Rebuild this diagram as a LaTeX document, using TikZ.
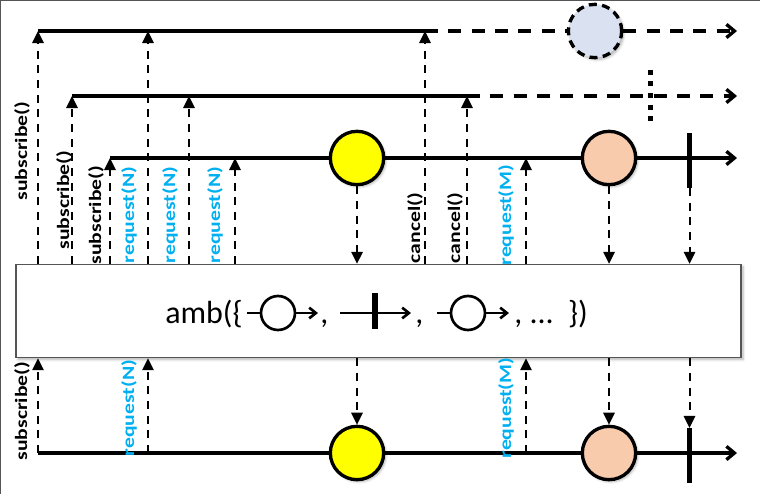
\documentclass[tikz,border=0pt]{standalone}
\usepackage{fontspec}
\setmainfont{Carlito}
\newfontfamily\notefont{Carlito}[FakeStretch=1.25]
\usetikzlibrary{arrows.meta, positioning, calc, shadows.blur}
\definecolor{edgegray}{RGB}{85, 85, 85}
\definecolor{reqblue}{RGB}{0, 176, 240}
\definecolor{itemyellow}{RGB}{255, 255, 0}
\definecolor{itempeach}{RGB}{248, 203, 173}
\definecolor{itemghost}{RGB}{218, 226, 241}

\begin{document}
\begin{tikzpicture}[x=0.75pt, y=-0.75pt,
        soft/.style={blur shadow={shadow xshift=1.5pt, shadow yshift=-1.5pt, shadow blur steps=6, shadow opacity=30}},
        stream/.style={line width=2.5pt},
        streamend/.style={-{Straight Barb[length=6pt, width=10pt]}},
        lost/.style={stream, dash pattern=on 9.75pt off 7.75pt},
        errmark/.style={line width=3.75pt, dash pattern=on 3.75pt off 5pt},
        call/.style={line width=1.5pt, dash pattern=on 6pt off 5pt, -{Triangle[length=9pt, width=8.5pt]}},
        marble/.style={circle, draw, line width=2.5pt, minimum size=40pt, inner sep=0pt, soft},
        ghost/.style={marble, fill=itemghost, dash pattern=on 6pt off 4pt},
        endbar/.style={fill=black, minimum width=4pt, minimum height=41pt, inner sep=0pt},
        note/.style={rotate=90, font=\notefont\fontsize{13}{15}\selectfont\bfseries, inner sep=0pt},
        reqnote/.style={note, text=reqblue},
        ambbox/.style={draw=edgegray, line width=1pt, fill=white, minimum width=543.75pt, minimum height=69.75pt, inner sep=0pt, soft},
        ambtext/.style={font=\fontsize{24}{28}\selectfont, inner sep=0pt},
        icon/.style={line width=2pt},
        iconend/.style={-{Straight Barb[length=5pt, width=8pt]}},
        iconball/.style={circle, draw, line width=2pt, fill=white, minimum size=25.5pt, inner sep=0pt},
        iconbar/.style={fill=black, minimum width=4pt, minimum height=27pt, inner sep=0pt}
    ]
    \useasboundingbox (0,0) rectangle (760,494);
    \draw[edgegray, line width=1.1pt] (0.7,494) -- (0.7,0.7) -- (760,0.7);

    % first source, cancelled
    \coordinate (s1) at (38,31);
    \coordinate (r1) at (148,31);
    \coordinate (c1) at (425,31);
    \coordinate (e1) at (737,31);
    \node[ghost] (g1) at (595,31) {};
    \draw[stream] (s1) -- (c1);
    \draw[lost] (c1) -- (g1.west);
    \draw[lost, streamend] (g1.east) -- (e1);

    % second source, cancelled
    \coordinate (s2) at (72,96);
    \coordinate (r2) at (189,96);
    \coordinate (c2) at (467,96);
    \coordinate (e2) at (737,96);
    \coordinate (x2) at (650,96);
    \draw[stream] (s2) -- (c2);
    \draw[lost, streamend] (c2) -- (e2);
    \draw[errmark] ($(x2)+(0,-26.5)$) -- ($(x2)+(0,25.5)$);

    % third source, the winner
    \coordinate (s3) at (110,158);
    \coordinate (r3) at (235,158);
    \coordinate (m3) at (526,158);
    \coordinate (e3) at (737,158);
    \node[marble, fill=itemyellow] (y3) at (357,158) {};
    \node[marble, fill=itempeach] (p3) at (609,158) {};
    \draw[stream] (s3) -- (y3.west);
    \draw[stream] (y3.east) -- (p3.west);
    \draw[stream, streamend] (p3.east) -- (e3);
    \node[endbar] (b3) at (689.5,160.5) {};

    % operator box
    \node[ambbox] (amb) at (378.5,311) {};
    \node[ambtext, anchor=base west] (head) at (165,323) {amb(\{};
    \coordinate (i1a) at (247,313);
    \coordinate (i1b) at (318,313);
    \node[iconball] (i1) at (278,313) {};
    \draw[icon] (i1a) -- (i1.west);
    \draw[icon, iconend] (i1.east) -- (i1b);
    \node[ambtext, anchor=base west] (sep1) at (320,323) {,};
    \coordinate (i2a) at (340,313);
    \coordinate (i2b) at (411,313);
    \draw[icon, iconend] (i2a) -- (i2b);
    \node[iconbar] (i2) at (375,311) {};
    \node[ambtext, anchor=base west] (sep2) at (415,323) {,};
    \coordinate (i3a) at (437,313);
    \coordinate (i3b) at (509,313);
    \node[iconball] (i3) at (468,313) {};
    \draw[icon] (i3a) -- (i3.west);
    \draw[icon, iconend] (i3.east) -- (i3b);
    \node[ambtext, anchor=base west] (tail) at (514,323) {, ...\ \ \})};

    % calls up into the sources
    \draw[call] (s1 |- amb.north) -- (s1);
    \draw[call] (r1 |- amb.north) -- (r1);
    \draw[call] (c1 |- amb.north) -- (c1);
    \draw[call] (s2 |- amb.north) -- (s2);
    \draw[call] (r2 |- amb.north) -- (r2);
    \draw[call] (c2 |- amb.north) -- (c2);
    \draw[call] (s3 |- amb.north) -- (s3);
    \draw[call] (r3 |- amb.north) -- (r3);
    \draw[call] (m3 |- amb.north) -- (m3);
    \node[note] (ls1) at (22,151) {subscribe()};
    \node[note] (ls2) at (64,200) {subscribe()};
    \node[note] (ls3) at (96,215) {subscribe()};
    \node[reqnote] (lr1) at (129,215) {request(N)};
    \node[reqnote] (lr2) at (170,215) {request(N)};
    \node[reqnote] (lr3) at (215,215) {request(N)};
    \node[note] (lc1) at (415,228) {cancel()};
    \node[note] (lc2) at (455,228) {cancel()};
    \node[reqnote] (lm3) at (506,215) {request(M)};

    % items passed down
    \draw[call] (y3.south) -- (y3.south |- amb.north);
    \draw[call] (p3.south) -- (p3.south |- amb.north);
    \draw[call] (b3.south) -- (b3.south |- amb.north);

    % output
    \coordinate (so) at (38,453);
    \coordinate (ro) at (148,453);
    \coordinate (mo) at (526,453);
    \coordinate (eo) at (737,453);
    \node[marble, fill=itemyellow] (yo) at (357,453) {};
    \node[marble, fill=itempeach] (po) at (609,453) {};
    \draw[stream] (so) -- (yo.west);
    \draw[stream] (yo.east) -- (po.west);
    \draw[stream, streamend] (po.east) -- (eo);
    \node[endbar] (bo) at (689.5,455.5) {};

    \draw[call] (so) -- (so |- amb.south);
    \draw[call] (ro) -- (ro |- amb.south);
    \draw[call] (mo) -- (mo |- amb.south);
    \draw[call] (yo.north |- amb.south) -- (yo.north);
    \draw[call] (po.north |- amb.south) -- (po.north);
    \draw[call] (bo.north |- amb.south) -- (bo.north);
    \node[note] (lso) at (22,411) {subscribe()};
    \node[reqnote] (lro) at (129,408) {request(N)};
    \node[reqnote] (lmo) at (506,408) {request(M)};
\end{tikzpicture}
\end{document}
